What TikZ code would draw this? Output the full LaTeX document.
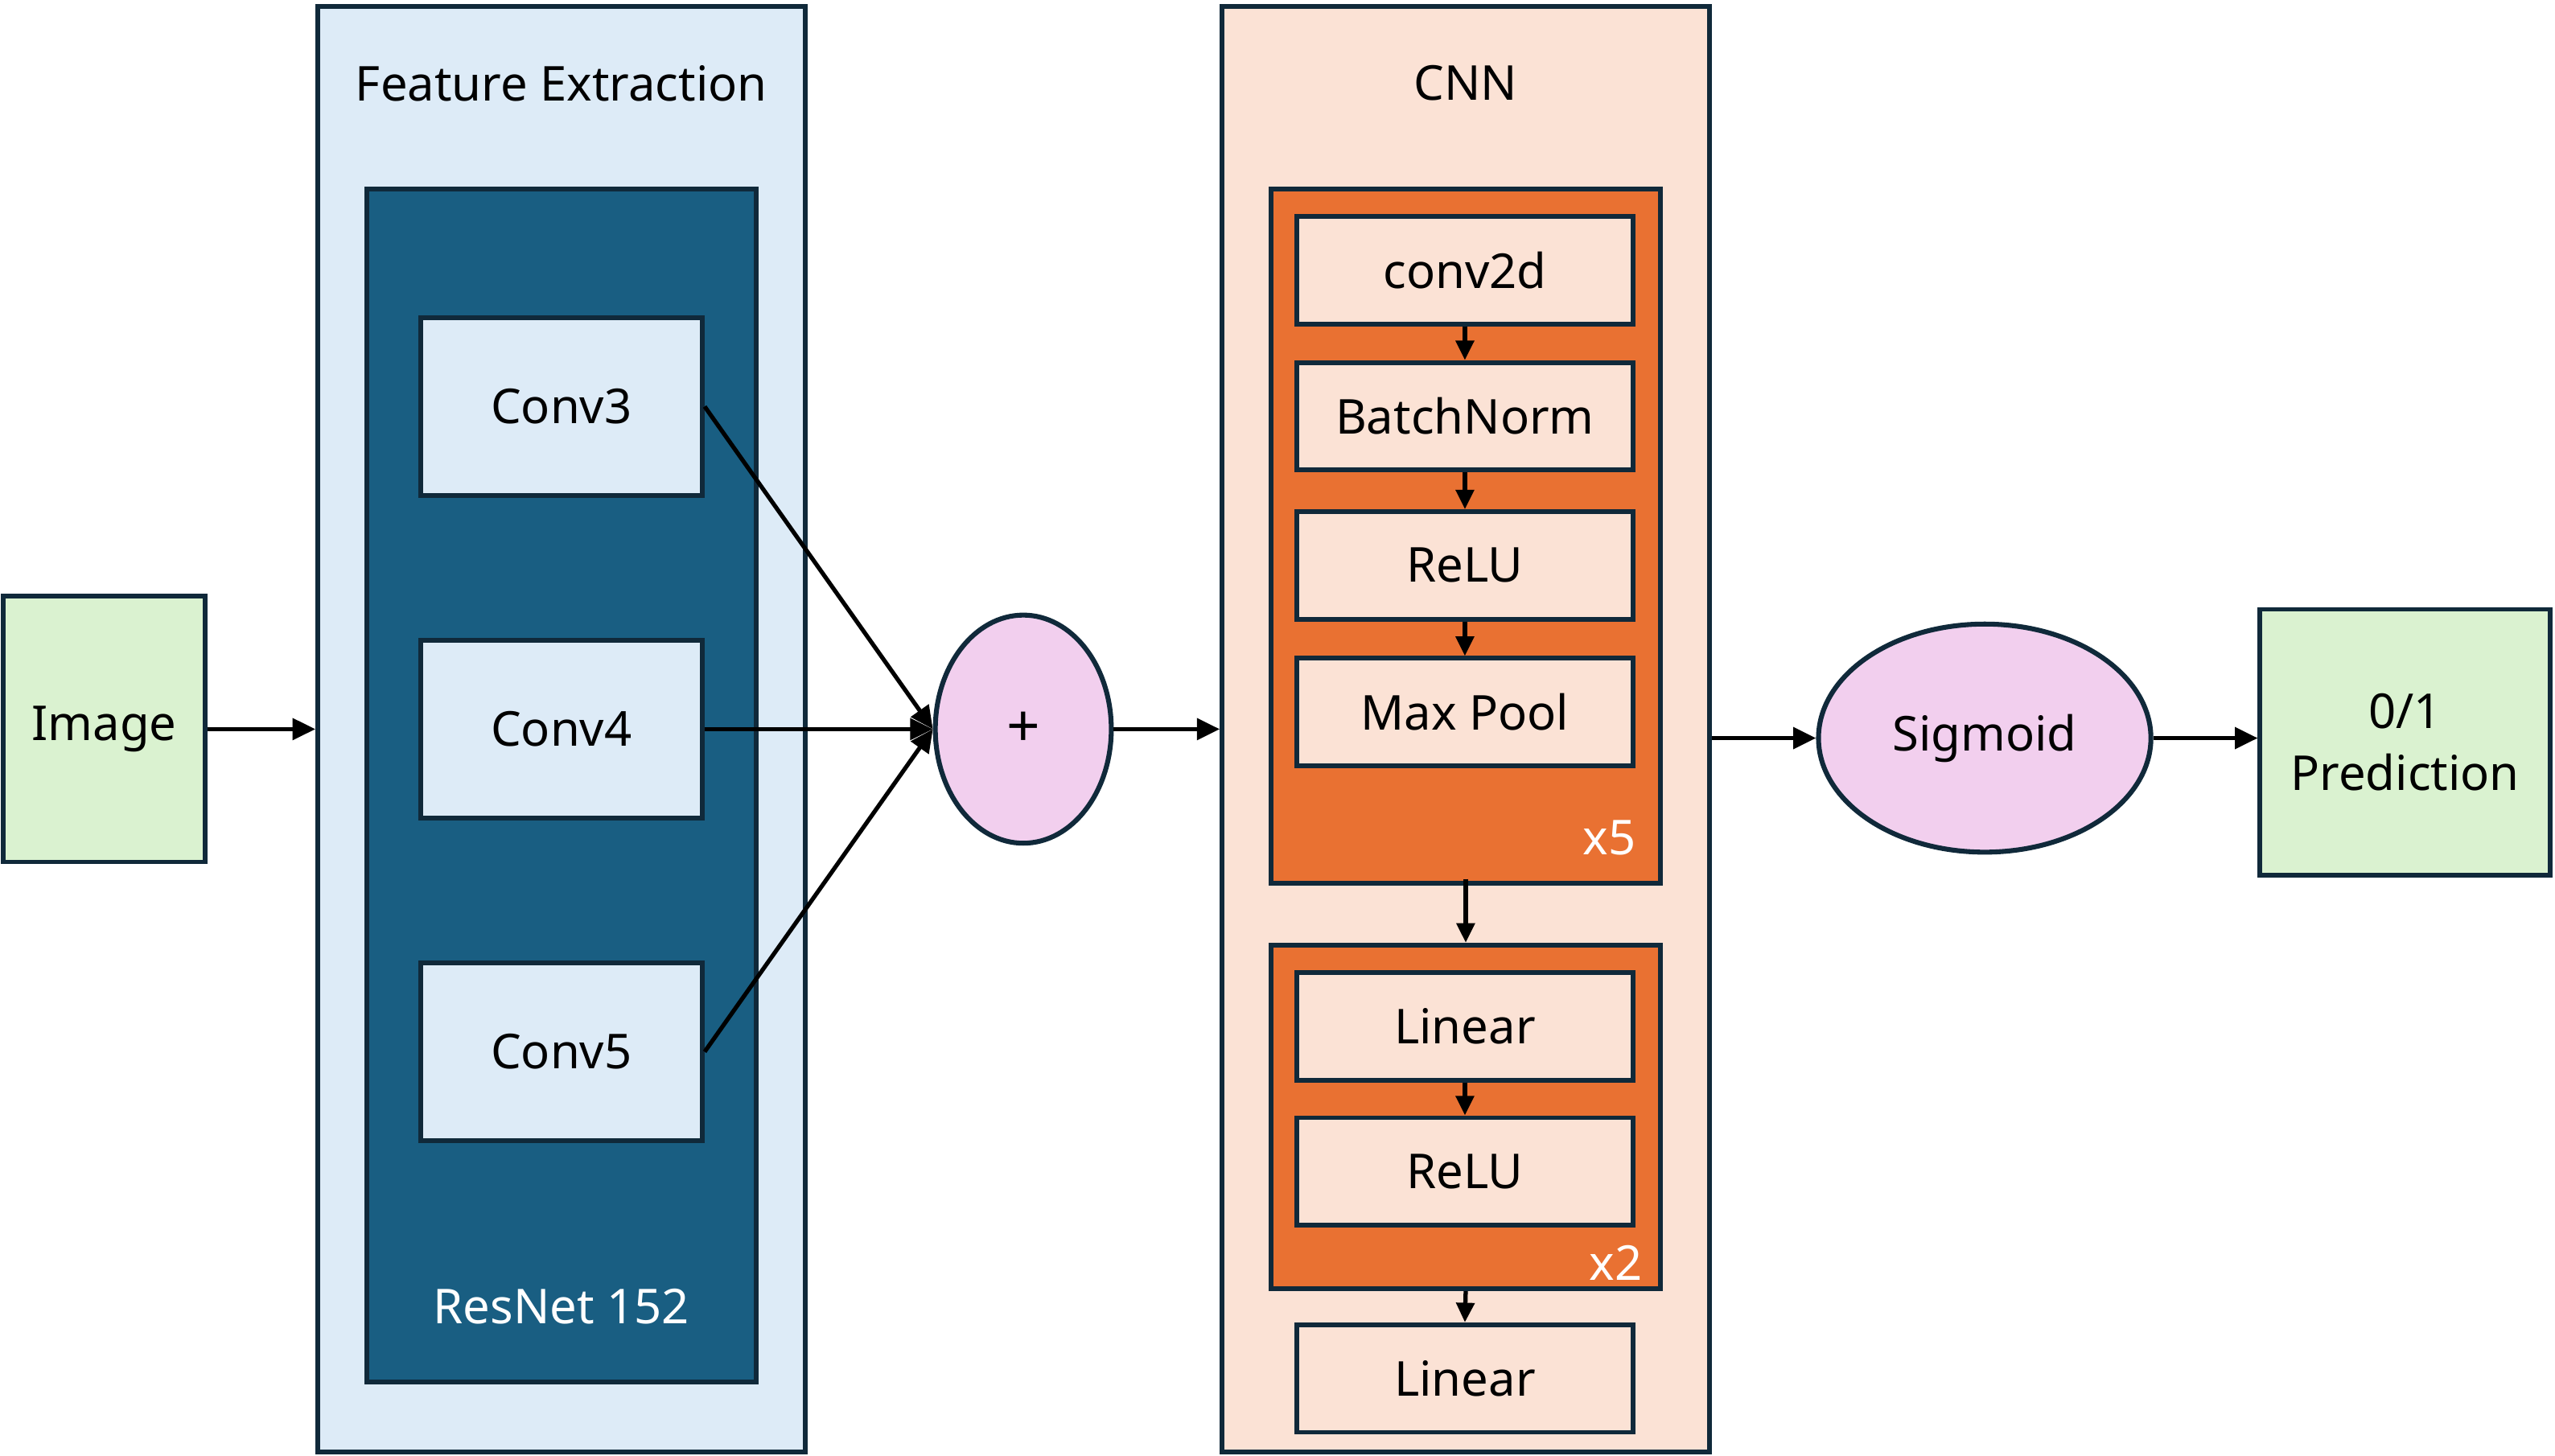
\documentclass[tikz,border=0pt]{standalone}
\usepackage{fontspec}
\setmainfont{Noto Sans}
\usetikzlibrary{arrows.meta,shapes.geometric}
\definecolor{bord}{HTML}{10293A}
\definecolor{lblue}{HTML}{DDEBF7}
\definecolor{teal}{HTML}{195E82}
\definecolor{peach}{HTML}{FBE2D5}
\definecolor{orng}{HTML}{E97132}
\definecolor{pink}{HTML}{F2CFEE}
\definecolor{lgreen}{HTML}{DAF2D0}
\newcommand{\labfont}{\fontsize{29.5}{38}\selectfont}
\tikzset{
  box/.style={draw=bord, line width=2.9pt, rectangle, inner sep=0pt, font=\labfont},
  ell/.style={draw=bord, line width=3pt, ellipse, inner sep=0pt, font=\labfont},
  arr/.style={line width=2.6pt, -{Triangle[length=14pt,width=13pt]}},
  sarr/.style={line width=2.6pt, -{Triangle[length=12pt,width=11pt]}},
  wlab/.style={text=white, font=\labfont, inner sep=0pt}
}
\begin{document}
\begin{tikzpicture}[x=1pt,y=-1pt]
\useasboundingbox (0,0) rectangle (1568,893.6);
% left part
\node[box, fill=lgreen, minimum width=124pt, minimum height=163pt] (img) at (64,447.5) {Image};
\node[box, fill=lblue, minimum width=299pt, minimum height=887pt] (fe) at (344.5,447.5) {};
\node[font=\labfont, inner sep=0pt] (fet) at (344.5,51) {Feature Extraction};
\node[box, fill=teal, minimum width=239pt, minimum height=732pt] (res) at (344.5,482) {};
\node[wlab] (rest) at (344.5,802) {ResNet 152};
\node[box, fill=lblue, minimum width=173pt, minimum height=109pt] (c3) at (344.5,249.5) {Conv3};
\node[box, fill=lblue, minimum width=173pt, minimum height=109pt] (c4) at (344.5,447.5) {Conv4};
\node[box, fill=lblue, minimum width=173pt, minimum height=109pt] (c5) at (344.5,645.5) {Conv5};
% plus
\node[ell, fill=pink, minimum width=108pt, minimum height=140pt, font=\fontsize{36}{40}\selectfont] (plus) at (628,447.5) {+};
% CNN
\node[box, fill=peach, minimum width=299pt, minimum height=887pt] (cnn) at (899.5,447.5) {};
\node[font=\labfont, inner sep=0pt] (cnnt) at (899.5,51) {CNN};
\node[box, fill=orng, minimum width=239pt, minimum height=426pt] (o1) at (899.5,329) {};
\node[wlab, anchor=east] (x5) at (1004,514) {x5};
\node[box, fill=peach, minimum width=206pt, minimum height=66pt] (conv) at (899,166) {conv2d};
\node[box, fill=peach, minimum width=206pt, minimum height=66pt] (bn) at (899,255.5) {BatchNorm};
\node[box, fill=peach, minimum width=206pt, minimum height=66pt] (relu1) at (899,347) {ReLU};
\node[box, fill=peach, minimum width=206pt, minimum height=66pt] (mp) at (899,437) {Max Pool};
\node[box, fill=orng, minimum width=239pt, minimum height=211pt] (o2) at (899.5,685.5) {};
\node[wlab, anchor=east] (x2) at (1008,775) {x2};
\node[box, fill=peach, minimum width=206pt, minimum height=66pt] (lin1) at (899,630) {Linear};
\node[box, fill=peach, minimum width=206pt, minimum height=66pt] (relu2) at (899,719) {ReLU};
\node[box, fill=peach, minimum width=206pt, minimum height=66pt] (lin2) at (899,846) {Linear};
% right part
\node[ell, fill=pink, minimum width=204pt, minimum height=140pt] (sig) at (1218,453) {Sigmoid};
\node[box, fill=lgreen, minimum width=178pt, minimum height=163pt, align=center] (pred) at (1476,455.5) {0/1\\Prediction};
% connectors
\draw[arr] (img.east) -- (fe.west |- img.east);
\draw[arr] (c3.east) -- (plus.west);
\draw[arr] (c4.east) -- (plus.west);
\draw[arr] (c5.east) -- (plus.west);
\draw[arr] (plus.east) -- (cnn.west |- plus.east);
\coordinate (cnnout) at (cnn.east |- sig.west);
\draw[arr] (cnnout) -- (sig.west);
\draw[arr] (sig.east) -- (sig.east -| pred.west);
\draw[sarr] (conv.south) -- (bn.north);
\draw[sarr] (bn.south) -- (relu1.north);
\draw[sarr] (relu1.south) -- (mp.north);
\draw[sarr] ([yshift=4pt]o1.south) -- (o2.north);
\draw[sarr] (lin1.south) -- (relu2.north);
\draw[sarr] (o2.south) -- (lin2.north);
\end{tikzpicture}
\end{document}
